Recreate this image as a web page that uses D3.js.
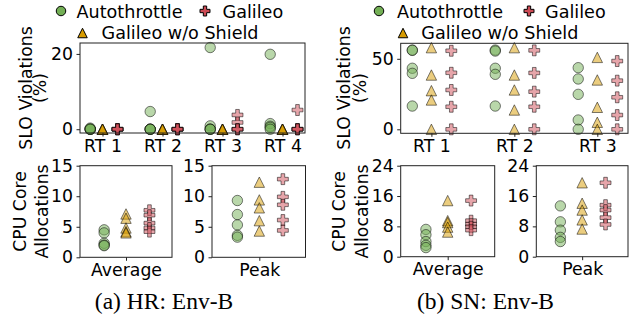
<!DOCTYPE html>
<html>
<head>
<meta charset="utf-8">
<script src="https://cdn.jsdelivr.net/npm/d3@7"></script>
<style>
  body { margin: 0; background: #fff; }
  svg { display: block; }
  text { font-family: "DejaVu Sans", sans-serif; fill: #000; }
</style>
</head>
<body>
<svg id="chart" width="636" height="322"></svg>
<script>
// ---- data ----
const seriesNames = ["Autothrottle", "Galileo w/o Shield", "Galileo"]

// (a) HR: Env-B, SLO violations (%) per RT, 5 runs each
const hrCategories = ["RT 1", "RT 2", "RT 3", "RT 4"]
const hrSloAuto = [[0, 0, 0, 0.3, 0], [4.7, 0, 0, 0, 0], [21.7, 0.9, 0, 0, 0], [19.9, 1.5, 0.8, 0.5, 0]]
const hrSloNoShield = [[0, 0, 0, 0, 0], [0, 0, 0, 0, 0], [0, 0, 0, 0, 0], [0, 0, 0, 0, 0]]
const hrSloGalileo = [[0, 0, 0, 0, 0], [0, 0, 0, 0, 0], [3.8, 1.8, 0, 0, 0], [5.1, 0, 0, 0, 0]]
const hrTicks = [0, 20]

// (a) HR: CPU core allocations
const hrAvgAuto = [4.5, 4.0, 2.3, 2.0, 1.9]
const hrAvgNoShield = [7.1, 6.4, 4.8, 4.2, 4.0]
const hrAvgGalileo = [7.7, 6.9, 5.6, 4.8, 4.2]
const hrPeakAuto = [9.3, 7.0, 5.3, 3.6, 3.3]
const hrPeakNoShield = [12.3, 9.4, 8.1, 6.0, 4.3]
const hrPeakGalileo = [12.8, 9.9, 8.6, 6.1, 4.4]
const hrCoreTicks = [0, 5, 10, 15]

// (b) SN: Env-B, SLO violations (%)
const snCategories = ["RT 1", "RT 2", "RT 3"]
const snSloAuto = [[56.2, 56, 43.3, 39.7, 16.5], [56.2, 55.5, 43.3, 39, 16.5], [43.7, 35.7, 24.8, 6.6, 0]]
const snSloNoShield = [[57.9, 38.5, 27.4, 20.8, 0], [57.9, 38.5, 27.9, 13.7, 0], [51, 35, 15.6, 5, 0]]
const snSloGalileo = [[55.7, 40.1, 27.9, 16, 0], [56, 40, 26.7, 16, 0], [48.4, 34.5, 22.7, 10.1, 0]]
const snTicks = [0, 50]

// (b) SN: CPU core allocations
const snAvgAuto = [7.2, 5.8, 4.0, 3.0, 2.4]
const snAvgNoShield = [14.8, 9.5, 9.0, 7.8, 6.5]
const snAvgGalileo = [14.8, 9.5, 8.6, 7.9, 7.0]
const snPeakAuto = [13.4, 9.2, 7.0, 5.1, 4.0]
const snPeakNoShield = [19.5, 14.1, 12.3, 9.7, 7.3]
const snPeakGalileo = [19.5, 13.6, 12.3, 10.3, 8.5]
const snCoreTicks = [0, 8, 16, 24]

const captions = ["(a) HR: Env-B", "(b) SN: Env-B"]

// ---- styles ----
const colors = { auto: "#73af55", noShield: "#d79b00", galileo: "#cd4b55" }
const markerSize = 10.4
const tickFont = "17.3px"
const labelFont = "17.3px"

const svg = d3.select("#chart")

function trianglePath(m) {
  const h = m / 2
  return `M0,${-h}L${h},${h}L${-h},${h}Z`
}
function plusPath(m) {
  const a = m / 2, b = m / 6
  return `M${-b},${-a}H${b}V${-b}H${a}V${b}H${b}V${a}H${-b}V${b}H${-a}V${-b}H${-b}Z`
}

// kind: 'circle' | 'tri' | 'plus'
function marker(g, kind, x, y, color, alpha, size) {
  const m = size || markerSize
  let el
  if (kind === 'circle') {
    el = g.append("circle").attr("cx", x).attr("cy", y).attr("r", m / 2)
  } else {
    el = g.append("path")
      .attr("d", kind === 'tri' ? trianglePath(m) : plusPath(m * 1.05))
      .attr("transform", `translate(${x},${y})`)
  }
  el.attr("fill", color).attr("stroke", "#000").attr("stroke-width", 1)
    .attr("fill-opacity", alpha).attr("stroke-opacity", alpha)
}

// draw one axes box with points
function drawAxes(box, xDomain, yDomain, yTicks, xTicks, xTickLabels, groups) {
  const x = d3.scaleLinear().domain(xDomain).range([box.left, box.right])
  const y = d3.scaleLinear().domain(yDomain).range([box.bottom, box.top])
  const g = svg.append("g")

  // points
  groups.forEach(gr => {
    gr.values.forEach(v => marker(g, gr.kind, x(gr.x), y(v), gr.color, 0.5))
  })

  // y axis
  const yAxis = d3.axisLeft(y).tickValues(yTicks).tickSize(3.5).tickPadding(3.5)
  const ya = svg.append("g").attr("transform", `translate(${box.left},0)`).call(yAxis)
  ya.select(".domain").remove()
  ya.selectAll("text").style("font-size", tickFont).style("font-family", "DejaVu Sans")
  ya.selectAll("line").attr("stroke", "#222")

  // x axis
  const xAxis = d3.axisBottom(x).tickValues(xTicks).tickFormat((d, i) => xTickLabels[i])
    .tickSize(3.5).tickPadding(3)
  const xa = svg.append("g").attr("transform", `translate(0,${box.bottom})`).call(xAxis)
  xa.select(".domain").remove()
  xa.selectAll("text").style("font-size", tickFont).style("font-family", "DejaVu Sans")
  xa.selectAll("line").attr("stroke", "#222")

  svg.append("rect")
    .attr("x", box.left).attr("y", box.top)
    .attr("width", box.right - box.left).attr("height", box.bottom - box.top)
    .attr("fill", "none").attr("stroke", "#222").attr("stroke-width", 1)
}

function sloGroups(cats, auto, noShield, galileo, offA, offG) {
  const out = []
  cats.forEach((c, i) => {
    out.push({ kind: 'circle', x: i + offA, values: auto[i], color: colors.auto })
    out.push({ kind: 'tri', x: i, values: noShield[i], color: colors.noShield })
    out.push({ kind: 'plus', x: i + offG, values: galileo[i], color: colors.galileo })
  })
  return out
}

function coreGroups(auto, noShield, galileo) {
  return [
    { kind: 'circle', x: -0.95, values: auto, color: colors.auto },
    { kind: 'tri', x: 0, values: noShield, color: colors.noShield },
    { kind: 'plus', x: 1.02, values: galileo, color: colors.galileo }
  ]
}

function yLabel(xBase, yc, line1, line2, gap) {
  const t = svg.append("g")
  t.append("text").attr("transform", `translate(${xBase},${yc}) rotate(-90)`)
    .attr("text-anchor", "middle").style("font-size", labelFont).text(line1)
  t.append("text").attr("transform", `translate(${xBase + gap},${yc}) rotate(-90)`)
    .attr("text-anchor", "middle").style("font-size", labelFont).text(line2)
}

function legend(pos) {
  const g = svg.append("g")
  const items = [
    { kind: 'circle', color: colors.auto, name: seriesNames[0], mx: pos.a[0], my: 11, tx: pos.a[1], ty: 17.5 },
    { kind: 'plus', color: colors.galileo, name: seriesNames[2], mx: pos.g[0], my: 11, tx: pos.g[1], ty: 17.5 },
    { kind: 'tri', color: colors.noShield, name: seriesNames[1], mx: pos.n[0], my: 33, tx: pos.n[1], ty: 38.5 }
  ]
  items.forEach(it => {
    marker(g, it.kind, it.mx, it.my, it.color, 1, 9.5)
    g.append("text").attr("x", it.tx).attr("y", it.ty).style("font-size", "17.6px").text(it.name)
  })
}

// ---- (a) HR ----
const hrTop = { left: 80, right: 305, top: 43, bottom: 133 }
drawAxes(hrTop, [-0.375, 3.375], [-1.0, 22.9], hrTicks, [0, 1, 2, 3], hrCategories,
  sloGroups(hrCategories, hrSloAuto, hrSloNoShield, hrSloGalileo, -0.205, 0.25))
const hrAvgBox = { left: 80, right: 172, top: 165.7, bottom: 257.3 }
drawAxes(hrAvgBox, [-2.0, 2.0], [0, 15], hrCoreTicks, [0], ["Average"],
  coreGroups(hrAvgAuto, hrAvgNoShield, hrAvgGalileo))
const hrPeakBox = { left: 212, right: 305.5, top: 165.7, bottom: 257.3 }
drawAxes(hrPeakBox, [-2.05, 2.0], [0, 15], hrCoreTicks, [0], ["Peak"],
  coreGroups(hrPeakAuto, hrPeakNoShield, hrPeakGalileo))
yLabel(31.5, 88, "SLO Violations", "(%)", 14.5)
yLabel(26, 211.5, "CPU Core", "Allocations", 22)
legend({ a: [61, 76.5], g: [205, 222.5], n: [82.5, 101.5] })

// ---- (b) SN ----
const snTop = { left: 400.7, right: 628, top: 43.3, bottom: 133.3 }
drawAxes(snTop, [-0.37, 2.37], [-2.83, 61], snTicks, [0, 1, 2], snCategories,
  sloGroups(snCategories, snSloAuto, snSloNoShield, snSloGalileo, -0.23, 0.24))
const snAvgBox = { left: 400.7, right: 494.7, top: 165.7, bottom: 256.7 }
drawAxes(snAvgBox, [-2.05, 2.05], [0, 24], snCoreTicks, [0], ["Average"],
  coreGroups(snAvgAuto, snAvgNoShield, snAvgGalileo))
const snPeakBox = { left: 536.3, right: 628, top: 165.7, bottom: 256.7 }
drawAxes(snPeakBox, [-2.0, 2.0], [0, 24], snCoreTicks, [0], ["Peak"],
  coreGroups(snPeakAuto, snPeakNoShield, snPeakGalileo))
yLabel(350, 88, "SLO Violations", "(%)", 16)
yLabel(345, 211.5, "CPU Core", "Allocations", 22.5)
legend({ a: [379, 397], g: [529, 545], n: [403, 421.3] })

// ---- captions ----
svg.append("text").attr("x", 164).attr("y", 309).attr("text-anchor", "middle")
  .style("font-family", "'Liberation Serif', 'Times New Roman', serif").style("font-size", "23.5px")
  .text(captions[0])
svg.append("text").attr("x", 485.5).attr("y", 309).attr("text-anchor", "middle")
  .style("font-family", "'Liberation Serif', 'Times New Roman', serif").style("font-size", "23.5px")
  .text(captions[1])
</script>
</body>
</html>
